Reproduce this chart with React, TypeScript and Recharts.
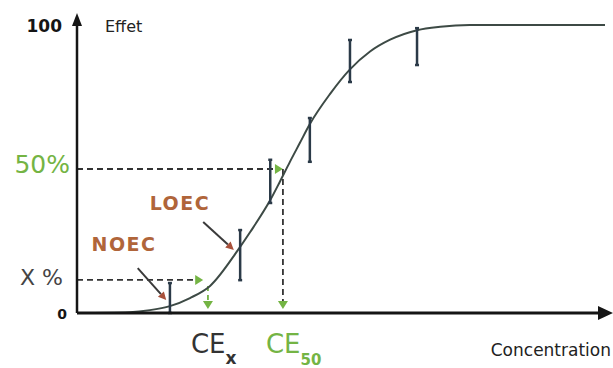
import React from 'react';
import {
  ComposedChart,
  Line,
  Scatter,
  ErrorBar,
  XAxis,
  YAxis,
  ReferenceLine,
  ReferenceDot,
} from 'recharts';

// Fitted dose-response curve (concentration 0..100, effect 0..100)
const curveX = [0, 10, 13.8, 17.6, 21.4, 25.2, 30.5, 32.8, 36.6, 38.4, 40.3, 42.2, 44.1, 47.9, 51.7, 55.5, 59.3, 64.4, 68.8, 74.4, 83.9, 100];
const curveY = [0, 0.3, 1.0, 2.4, 5.2, 9.4, 21.9, 28.1, 39.2, 45.5, 52.4, 59.0, 65.6, 76.0, 84.6, 90.8, 94.9, 98.2, 99.4, 100, 100, 100];

// Measured points with error bars
const pointX = [17.6, 30.9, 36.6, 44.1, 51.7, 64.4];
const pointY = [4.0, 20.1, 45.7, 60.1, 87.5, 92.5];
const errLow = [4.0, 8.7, 7.5, 7.6, 7.3, 6.4];
const errHigh = [6.4, 8.7, 7.5, 7.6, 7.3, 6.4];

// Axis ticks
const yTicks = [0, 11.5, 50, 100];
const yTickLabels = ['0', 'X %', '50%', '100'];
const xTicks = [24.8, 39];
const xTickMain = ['CE', 'CE'];
const xTickSub = ['x', '50'];
const yTitle = 'Effet';
const xTitle = 'Concentration';

// Thresholds
const xPct = 11.5;
const xPctArrowEnd = 23.9;
const ceX = 24.8;
const ceXTop = 9.4;
const half = 50;
const ce50 = 39;

// Annotations (NOEC / LOEC)
const annotText = ['NOEC', 'LOEC'];
const annotLabelX = [8.9, 19.5];
const annotLabelY = [24.0, 38.2];
const annotFromX = [11.5, 23.9];
const annotFromY = [15.6, 31.6];
const annotToX = [16.9, 29.7];
const annotToY = [4.5, 21.9];

const curveData = curveX.map((x, i) => ({ x, y: curveY[i] }));
const pointData = pointX.map((x, i) => ({ x, y: pointY[i], err: [errLow[i], errHigh[i]] }));

const FONT = '"DejaVu Sans", Verdana, sans-serif';
const GREEN = '#74b444';
const BROWN = '#b0653a';
const DARK = '#151515';

const makeArrow = (opts: {
  color: string;
  head: string;
  dash?: string;
  width: number;
  len: number;
  hw: number;
  tipOffset?: number;
}) => (p: any) => {
  const { x1, y1, x2, y2 } = p;
  const dx = x2 - x1;
  const dy = y2 - y1;
  const L = Math.sqrt(dx * dx + dy * dy) || 1;
  const ux = dx / L;
  const uy = dy / L;
  const off = opts.tipOffset || 0;
  const tx = x2 - ux * off;
  const ty = y2 - uy * off;
  const bx = tx - ux * opts.len;
  const by = ty - uy * opts.len;
  const nx = -uy;
  const ny = ux;
  return (
    <g>
      <line x1={x1} y1={y1} x2={bx} y2={by} stroke={opts.color} strokeWidth={opts.width} strokeDasharray={opts.dash} />
      <polygon
        points={`${tx},${ty} ${bx + nx * opts.hw},${by + ny * opts.hw} ${bx - nx * opts.hw},${by - ny * opts.hw}`}
        fill={opts.head}
      />
    </g>
  );
};

const renderYTick = (props: any) => {
  const { x, y, payload } = props;
  const idx = yTicks.indexOf(payload.value);
  const label = yTickLabels[idx];
  const styles = [
    { dx: -10, dy: 1, size: 14, weight: 'bold', fill: DARK },
    { dx: -14, dy: -2, size: 22, weight: 'normal', fill: '#444' },
    { dx: -7, dy: -5, size: 25, weight: 'normal', fill: GREEN },
    { dx: -15, dy: 1, size: 17, weight: 'bold', fill: DARK },
  ];
  const s = styles[idx] || styles[0];
  return (
    <text
      x={x + s.dx}
      y={y + s.dy}
      textAnchor="end"
      dominantBaseline="central"
      fontFamily={FONT}
      fontSize={s.size}
      fontWeight={s.weight}
      fill={s.fill}
    >
      {label}
    </text>
  );
};

const renderXTick = (props: any) => {
  const { x, y, payload } = props;
  const idx = xTicks.indexOf(payload.value);
  const color = idx === 1 ? GREEN : '#333';
  return (
    <text x={x - 17} y={y + 40} fontFamily={FONT} fontSize={26} fill={color}>
      <tspan>{xTickMain[idx]}</tspan>
      <tspan dy={idx === 0 ? 11 : 12} fontSize={idx === 0 ? 17 : 15} fontWeight="bold">
        {xTickSub[idx]}
      </tspan>
    </text>
  );
};

const nothing = () => <g />;

export default function App() {
  return (
    <div style={{ position: 'absolute', left: 0, top: 0, width: 613, height: 368, background: '#fff' }}>
      <ComposedChart width={613} height={368} margin={{ top: 25, right: 8, left: 0, bottom: 0 }}>
        <XAxis
          type="number"
          dataKey="x"
          domain={[0, 100]}
          ticks={xTicks}
          interval={0}
          tick={renderXTick}
          tickLine={false}
          tickSize={0}
          tickMargin={0}
          height={55}
          axisLine={{ stroke: DARK, strokeWidth: 3 }}
        />
        <YAxis
          type="number"
          domain={[0, 100]}
          ticks={yTicks}
          interval={0}
          tick={renderYTick}
          tickLine={false}
          tickSize={0}
          tickMargin={0}
          width={77}
          axisLine={{ stroke: DARK, strokeWidth: 2.5 }}
        />

        <ReferenceLine
          segment={[{ x: 0, y: half }, { x: ce50, y: half }]}
          shape={makeArrow({ color: '#333', head: GREEN, dash: '6 4', width: 1.8, len: 8, hw: 5 })}
        />
        <ReferenceLine
          segment={[{ x: ce50, y: half }, { x: ce50, y: 0 }]}
          shape={makeArrow({ color: '#333', head: GREEN, dash: '6 4', width: 1.8, len: 8, hw: 5, tipOffset: 4 })}
        />
        <ReferenceLine
          segment={[{ x: 0, y: xPct }, { x: xPctArrowEnd, y: xPct }]}
          shape={makeArrow({ color: '#333', head: GREEN, dash: '6 4', width: 1.8, len: 8, hw: 5 })}
        />
        <ReferenceLine
          segment={[{ x: ceX, y: ceXTop }, { x: ceX, y: 0 }]}
          shape={makeArrow({ color: GREEN, head: GREEN, dash: '5 4', width: 1.8, len: 8, hw: 5, tipOffset: 4 })}
        />
        {annotText.map((t, i) => (
          <ReferenceLine
            key={'a' + t}
            segment={[{ x: annotFromX[i], y: annotFromY[i] }, { x: annotToX[i], y: annotToY[i] }]}
            shape={makeArrow({ color: '#3a3a3a', head: '#a8503a', width: 2, len: 8, hw: 4 })}
          />
        ))}
        {annotText.map((t, i) => (
          <ReferenceDot
            key={'l' + t}
            x={annotLabelX[i]}
            y={annotLabelY[i]}
            ifOverflow="visible"
            shape={(p: any) => (
              <text
                x={p.cx}
                y={p.cy}
                textAnchor="middle"
                dominantBaseline="central"
                fontFamily={FONT}
                fontWeight="bold"
                fontSize={19}
                letterSpacing={1.5}
                fill={BROWN}
              >
                {t}
              </text>
            )}
          />
        ))}

        <Line
          data={curveData}
          dataKey="y"
          type="monotone"
          stroke="#3d4a45"
          strokeWidth={2}
          dot={false}
          activeDot={false}
          isAnimationActive={false}
        />
        <Scatter data={pointData} dataKey="y" shape={nothing} isAnimationActive={false}>
          <ErrorBar dataKey="err" direction="y" width={2} stroke="#2b3a48" strokeWidth={2.5} isAnimationActive={false} />
        </Scatter>

        <ReferenceDot
          x={0}
          y={100}
          ifOverflow="visible"
          shape={(p: any) => (
            <g>
              <polygon points={`${p.cx},${p.cy - 12} ${p.cx - 5},${p.cy + 1} ${p.cx + 5},${p.cy + 1}`} fill={DARK} />
              <text x={p.cx + 28} y={p.cy + 1} dominantBaseline="central" fontFamily={FONT} fontSize={16} fill="#222">
                {yTitle}
              </text>
            </g>
          )}
        />
        <ReferenceDot
          x={100}
          y={0}
          ifOverflow="visible"
          shape={(p: any) => (
            <g>
              <polygon points={`${p.cx + 8},${p.cy} ${p.cx - 7},${p.cy - 7} ${p.cx - 7},${p.cy + 7}`} fill={DARK} />
              <text x={p.cx + 6} y={p.cy + 43} textAnchor="end" fontFamily={FONT} fontSize={17} fill="#222">
                {xTitle}
              </text>
            </g>
          )}
        />
      </ComposedChart>
    </div>
  );
}
